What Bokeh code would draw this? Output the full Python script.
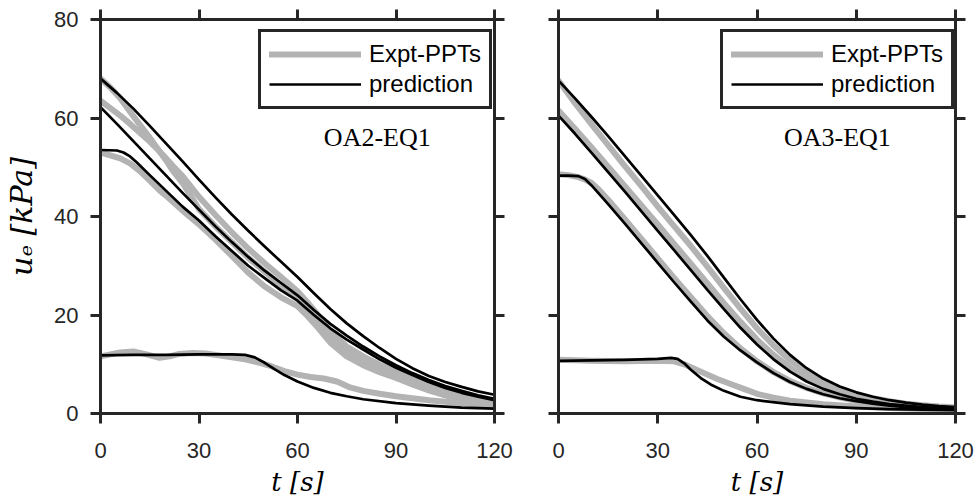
from bokeh.plotting import figure
from bokeh.models import Range1d, LinearAxis, FixedTicker, Legend, LegendItem, CustomJSTickFormatter
from bokeh.layouts import row
from bokeh.embed import file_html
from bokeh.resources import INLINE
from bokeh.core.properties import value

# ---------------- data ----------------
x_ticks = [0, 30, 60, 90, 120]
y_ticks = [0, 20, 40, 60, 80]
legend_labels = ["Expt-PPTs", "prediction"]
panel_names = ["OA2-EQ1", "OA3-EQ1"]

# Left panel (OA2-EQ1)
tL = [0, 5, 10, 15, 20, 25, 30, 35, 40, 45, 50, 55, 60, 65, 70, 75, 80, 85, 90, 95, 100, 105, 110, 115, 120]
L_pred1 = [68.0, 65.1, 61.9, 58.4, 54.8, 51.2, 47.5, 43.9, 40.4, 37.1, 33.9, 30.8, 27.7, 24.4, 21.2, 18.3, 15.7, 13.3, 11.1, 9.2, 7.6, 6.4, 5.4, 4.5, 3.8]
L_pred2 = [62.2, 58.8, 55.3, 51.8, 48.3, 44.8, 41.4, 38.0, 34.8, 31.8, 29.0, 26.5, 24.0, 21.0, 18.2, 15.8, 13.6, 11.6, 9.8, 8.2, 6.8, 5.6, 4.6, 3.7, 3.0]
tL_p3 = [0, 5, 7, 9, 11, 15, 20, 25, 30, 35, 40, 45, 50, 55, 60, 65, 70, 75, 80, 85, 90, 95, 100, 105, 110, 115, 120]
L_pred3 = [53.5, 53.4, 53.0, 52.2, 51.0, 48.4, 45.2, 42.0, 39.2, 36.0, 33.0, 30.0, 27.5, 25.0, 22.9, 20.0, 17.3, 15.0, 13.0, 11.0, 9.3, 7.8, 6.4, 5.2, 4.2, 3.4, 2.7]
tL_p4 = [0, 10, 20, 30, 40, 44, 47, 50, 53, 56, 60, 65, 70, 75, 80, 90, 100, 110, 120]
L_pred4 = [11.8, 11.9, 11.9, 12.0, 12.0, 11.9, 11.4, 10.3, 9.0, 7.8, 6.5, 5.2, 4.2, 3.5, 2.9, 2.1, 1.6, 1.2, 1.0]

tL_e = [0, 3, 6, 9, 12, 15, 18, 20, 22, 25, 30, 35, 40, 45, 50, 55, 60, 63, 66, 70, 75, 80, 85, 90, 95, 100, 105, 110, 115, 120]
L_expt1 = [68.0, 66.2, 64.0, 61.3, 58.6, 56.0, 53.2, 51.4, 49.3, 46.8, 41.5, 38.0, 34.8, 31.6, 28.8, 26.0, 23.4, 21.2, 18.8, 15.4, 12.4, 10.4, 8.8, 7.5, 6.0, 4.8, 3.8, 2.9, 2.2, 1.6]
L_expt2 = [63.5, 62.0, 60.5, 58.8, 57.0, 55.2, 53.2, 51.8, 50.3, 48.2, 44.0, 40.3, 36.8, 33.5, 30.5, 27.7, 24.8, 22.6, 20.2, 16.6, 13.6, 11.6, 9.9, 8.4, 6.9, 5.6, 4.5, 3.5, 2.7, 2.1]
L_expt3 = [53.0, 52.4, 51.8, 50.8, 49.2, 47.3, 45.3, 44.2, 43.0, 41.2, 38.4, 35.3, 32.0, 28.6, 25.8, 23.6, 21.8, 19.8, 17.6, 14.4, 11.6, 9.8, 8.4, 7.2, 5.9, 4.7, 3.7, 2.8, 2.1, 1.6]
tL_e4 = [0, 3, 6, 10, 14, 18, 21, 24, 28, 32, 36, 40, 44, 48, 52, 56, 60, 64, 68, 72, 76, 80, 85, 90, 95, 100, 105, 110, 115, 120]
L_expt4 = [11.6, 12.0, 12.4, 12.6, 12.0, 11.3, 11.6, 12.1, 12.3, 12.2, 11.8, 11.4, 11.0, 10.4, 9.6, 8.6, 7.9, 7.4, 7.1, 6.5, 5.3, 4.6, 4.0, 3.5, 3.1, 2.7, 2.4, 2.1, 1.9, 1.8]

# Right panel (OA3-EQ1)
tR = [0, 5, 10, 15, 20, 25, 30, 35, 40, 45, 50, 55, 60, 65, 70, 75, 80, 85, 90, 95, 100, 105, 110, 115, 120]
R_pred1 = [67.6, 64.0, 60.2, 56.3, 52.3, 48.3, 44.3, 40.3, 36.2, 32.0, 27.6, 23.2, 19.0, 15.2, 11.9, 9.2, 7.1, 5.5, 4.3, 3.4, 2.7, 2.2, 1.8, 1.5, 1.3]
R_pred2 = [60.5, 56.8, 52.9, 49.0, 45.1, 41.1, 37.1, 33.1, 29.1, 25.1, 21.2, 17.4, 14.0, 11.0, 8.5, 6.5, 5.0, 3.9, 3.0, 2.4, 1.9, 1.6, 1.3, 1.1, 1.0]
tR_3 = [0, 3, 6, 8, 10, 12, 15, 20, 25, 30, 35, 40, 45, 50, 55, 60, 65, 70, 75, 80, 85, 90, 95, 100, 105, 110, 115, 120]
R_pred3 = [48.3, 48.3, 48.2, 47.6, 46.3, 44.8, 42.5, 38.6, 34.6, 30.6, 26.6, 22.7, 18.9, 15.6, 12.8, 10.4, 8.2, 6.4, 5.0, 3.9, 3.1, 2.5, 2.0, 1.6, 1.3, 1.1, 1.0, 0.9]
tR_4 = [0, 10, 20, 30, 34, 36, 38, 40, 43, 46, 50, 55, 60, 70, 80, 90, 100, 110, 120]
R_pred4 = [10.7, 10.8, 10.9, 11.1, 11.3, 11.1, 10.2, 8.9, 7.2, 5.9, 4.6, 3.4, 2.7, 1.9, 1.4, 1.1, 0.9, 0.8, 0.7]

R_expt1 = [67.6, 63.0, 58.7, 54.5, 50.3, 46.2, 42.0, 38.0, 34.0, 29.8, 25.5, 21.3, 17.3, 13.8, 10.8, 8.4, 6.5, 5.0, 3.9, 3.1, 2.5, 2.0, 1.7, 1.4, 1.2]
R_expt2 = [61.5, 57.8, 54.0, 50.1, 46.2, 42.3, 38.4, 34.4, 30.4, 26.4, 22.4, 18.6, 15.0, 11.9, 9.3, 7.2, 5.5, 4.3, 3.3, 2.6, 2.1, 1.7, 1.4, 1.2, 1.0]
R_expt3 = [48.6, 48.4, 48.0, 47.5, 46.8, 45.6, 43.4, 39.5, 35.5, 31.5, 27.5, 23.6, 19.8, 16.3, 13.2, 10.6, 8.4, 6.6, 5.2, 4.1, 3.3, 2.6, 2.1, 1.7, 1.4, 1.2, 1.0, 0.9]
tR_e4 = [0, 10, 20, 30, 35, 38, 41, 44, 48, 52, 56, 60, 65, 70, 80, 90, 100, 110, 120]
R_expt4 = [10.9, 10.7, 10.6, 10.7, 10.6, 10.0, 9.1, 8.2, 7.0, 6.0, 5.0, 4.0, 3.2, 2.6, 1.9, 1.4, 1.1, 0.9, 0.8]

# ---------------- styles ----------------
AX = "#262626"
GRAY = "#b3b3b3"
BLACK = "#000000"
TICK_FONT = "Liberation Sans"
SERIF = "Liberation Serif"
LABEL_SERIF = "DejaVu Serif"
NAME_POS = (84.3, 56.0)


def style_axis(ax, ticks, labels=True):
    ax.ticker = FixedTicker(ticks=ticks)
    ax.axis_line_color = AX
    ax.axis_line_width = 3
    ax.major_tick_line_color = AX
    ax.major_tick_line_width = 3
    ax.major_tick_out = 10
    ax.major_tick_in = 0
    ax.minor_tick_line_color = None
    ax.minor_tick_out = 0
    ax.minor_tick_in = 0
    if labels:
        ax.major_label_text_font = TICK_FONT
        ax.major_label_text_font_size = "22px"
        ax.major_label_text_color = AX
    else:
        ax.formatter = CustomJSTickFormatter(code="return ''")
        ax.major_label_text_font_size = "0px"
        ax.major_label_standoff = 0


def make_panel(gray_series, black_series, name, show_ylabels, fw, bl, br, legend_xy):
    p = figure(frame_width=fw, frame_height=394,
               min_border_left=bl, min_border_right=br, min_border_top=19, min_border_bottom=87,
               x_range=Range1d(0, 120), y_range=Range1d(0, 80),
               output_backend="svg", toolbar_location=None, tools="")
    p.grid.visible = False
    p.outline_line_color = None
    p.background_fill_color = "white"
    p.border_fill_color = "white"

    style_axis(p.xaxis[0], x_ticks, True)
    style_axis(p.yaxis[0], y_ticks, show_ylabels)
    p.xaxis[0].major_label_standoff = 19
    p.xaxis[0].axis_label = "t [s]"
    p.xaxis[0].axis_label_standoff = 6
    p.xaxis[0].axis_label_text_font = LABEL_SERIF
    p.xaxis[0].axis_label_text_font_style = "italic"
    p.xaxis[0].axis_label_text_font_size = "26px"
    p.xaxis[0].axis_label_text_color = BLACK
    if show_ylabels:
        p.yaxis[0].major_label_standoff = 12
        p.yaxis[0].axis_label = "uₑ [kPa]"
        p.yaxis[0].axis_label_standoff = 12
        p.yaxis[0].axis_label_text_font = LABEL_SERIF
        p.yaxis[0].axis_label_text_font_style = "italic"
        p.yaxis[0].axis_label_text_font_size = "30px"
        p.yaxis[0].axis_label_text_color = BLACK

    top = LinearAxis()
    style_axis(top, x_ticks, False)
    p.add_layout(top, "above")
    right = LinearAxis()
    style_axis(right, y_ticks, False)
    p.add_layout(right, "right")

    g_r = []
    for t, v in gray_series:
        g_r.append(p.line(t, v, line_color=GRAY, line_width=6, line_join="round", line_cap="round"))
    b_r = []
    for t, v in black_series:
        b_r.append(p.line(t, v, line_color=BLACK, line_width=2.7, line_join="round"))

    p.text(x=[NAME_POS[0]], y=[NAME_POS[1]], text=[name], text_font=value(SERIF),
           text_font_size="26px", text_align="center", text_baseline="middle", text_color=BLACK)

    leg = Legend(items=[LegendItem(label=legend_labels[0], renderers=[g_r[0]]),
                        LegendItem(label=legend_labels[1], renderers=[b_r[0]])],
                 location=legend_xy)
    leg.border_line_color = AX
    leg.border_line_width = 3
    leg.border_line_alpha = 1.0
    leg.background_fill_color = "white"
    leg.background_fill_alpha = 1.0
    leg.label_text_font = TICK_FONT
    leg.label_text_font_size = "24px"
    leg.label_text_color = BLACK
    leg.glyph_width = 92
    leg.glyph_height = 24
    leg.label_height = 24
    leg.label_standoff = 8
    leg.padding = 8
    leg.spacing = 2
    leg.margin = 0
    p.add_layout(leg)
    return p


p1 = make_panel(
    [(tL_e, L_expt1), (tL_e, L_expt2), (tL_e, L_expt3), (tL_e4, L_expt4)],
    [(tL, L_pred1), (tL, L_pred2), (tL_p3, L_pred3), (tL_p4, L_pred4)],
    panel_names[0], True, 394, 100, 32, (158, 304))
p2 = make_panel(
    [(tR, R_expt1), (tR, R_expt2), (tR_3, R_expt3), (tR_e4, R_expt4)],
    [(tR, R_pred1), (tR, R_pred2), (tR_3, R_pred3), (tR_4, R_pred4)],
    panel_names[1], False, 397, 32, 23, (162, 304))

layout = row(p1, p2)
open("out.html", "w").write(file_html(layout, INLINE))
